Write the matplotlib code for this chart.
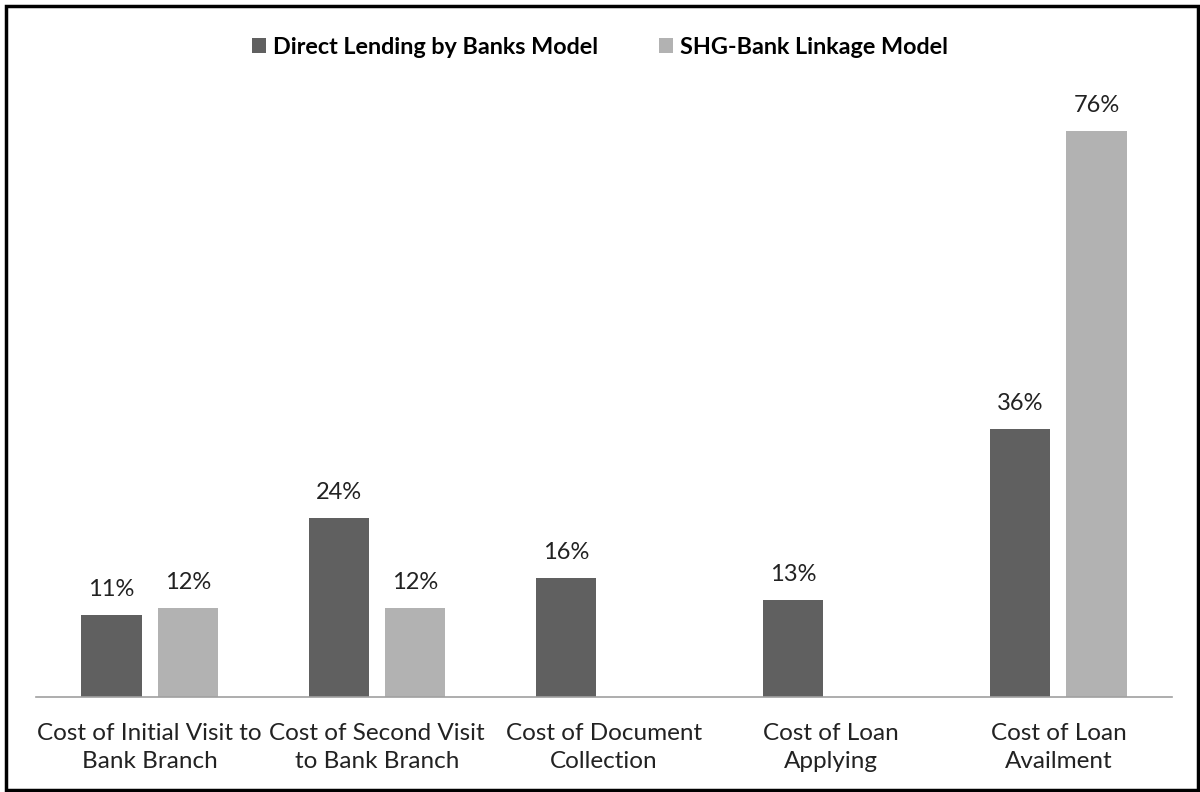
import matplotlib.pyplot as plt
import numpy as np
from matplotlib.patches import Rectangle

categories = ["Cost of Initial Visit to\nBank Branch", "Cost of Second Visit\nto Bank Branch",
              "Cost of Document\nCollection", "Cost of Loan\nApplying", "Cost of Loan\nAvailment"]
direct = [11, 24, 16, 13, 36]
shg = [12, 12, None, None, 76]
series_names = ["Direct Lending by Banks Model", "SHG-Bank Linkage Model"]

dark = "#606060"
light = "#b2b2b2"
plt.rcParams['font.family'] = ['Lato', 'DejaVu Sans']

fig = plt.figure(figsize=(12, 7.92), dpi=100)
ax = fig.add_axes([36 / 1200, 95 / 792, 1136 / 1200, 596 / 792])

x = np.arange(len(categories))
w = 0.265
off = 0.168
d_bars = ax.bar(x - off, direct, w, color=dark, label=series_names[0])
shg_x = [xi + off for xi, v in zip(x, shg) if v is not None]
shg_v = [v for v in shg if v is not None]
s_bars = ax.bar(shg_x, shg_v, w, color=light, label=series_names[1])

for bars in (d_bars, s_bars):
    for b in bars:
        ax.text(b.get_x() + b.get_width() / 2, b.get_height() + 2.0, f"{b.get_height():.0f}%",
                ha="center", va="bottom", fontsize=17, color="#222222")

ax.set_xlim(-0.5, len(categories) - 0.5)
ax.set_ylim(0, 80)
ax.set_yticks([])
ax.set_xticks(x)
ax.set_xticklabels(categories, fontsize=17.5, color="#222222", linespacing=1.4)
ax.tick_params(axis="x", length=0, pad=19)
for s in ("top", "right", "left"):
    ax.spines[s].set_visible(False)
ax.spines["bottom"].set_color("#a0a0a0")
ax.spines["bottom"].set_linewidth(1.2)

fig.legend(loc="center", bbox_to_anchor=(0.5, 1 - 47 / 792), ncol=2, frameon=False,
           prop={"weight": "bold", "size": 16.8}, handlelength=0.6, handleheight=0.6,
           handletextpad=0.3, columnspacing=2.6)

fig.patches.append(Rectangle((6 / 1200, 0.002), 1192 / 1200, 1 - 8 / 792, transform=fig.transFigure,
                             fill=False, edgecolor="black", linewidth=2.5))

fig.savefig("out.png", dpi=100)
